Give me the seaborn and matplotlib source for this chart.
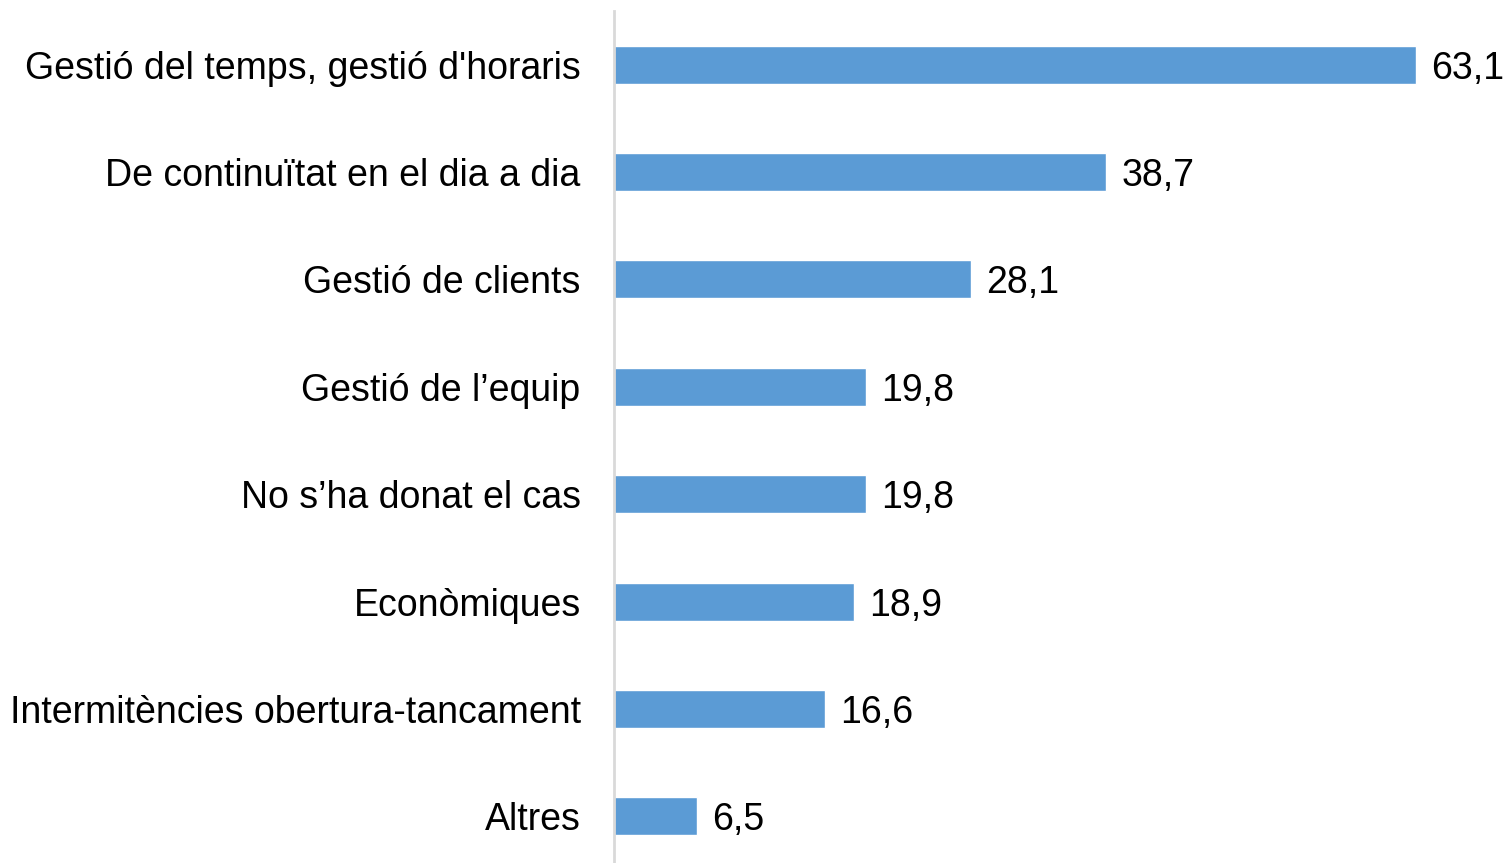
import matplotlib
matplotlib.use("Agg")
import matplotlib.pyplot as plt
import seaborn as sns
import pandas as pd

categories = [
    "Gestió del temps, gestió d'horaris",
    "De continuïtat en el dia a dia",
    "Gestió de clients",
    "Gestió de l’equip",
    "No s’ha donat el cas",
    "Econòmiques",
    "Intermitències obertura-tancament",
    "Altres",
]
values = [63.1, 38.7, 28.1, 19.8, 19.8, 18.9, 16.6, 6.5]

sns.set_style("white")
plt.rcParams["font.family"] = ["Liberation Sans", "DejaVu Sans"]

df = pd.DataFrame({"cat": categories, "val": values})

fig = plt.figure(figsize=(15.06, 8.63), dpi=100)
ax = fig.add_axes([614 / 1506, 1 - 870 / 863, 890 / 1506, 859 / 863])

sns.barplot(data=df, y="cat", x="val", orient="h", color="#5B9BD5",
            saturation=1, width=0.355, ax=ax)

ax.set_xlim(0, 70)
ax.set_xlabel("")
ax.set_ylabel("")
ax.set_xticks([])
for s in ["top", "right", "bottom"]:
    ax.spines[s].set_visible(False)
ax.spines["left"].set_color("#D9D9D9")
ax.spines["left"].set_linewidth(2)
ax.tick_params(axis="y", length=0, pad=24, labelsize=27, labelcolor="black")

for i, v in enumerate(values):
    ax.text(v + 1.2, i, f"{v:.1f}".replace(".", ","), va="center_baseline",
            ha="left", fontsize=27, color="black")

fig.savefig("out.png", dpi=100)
